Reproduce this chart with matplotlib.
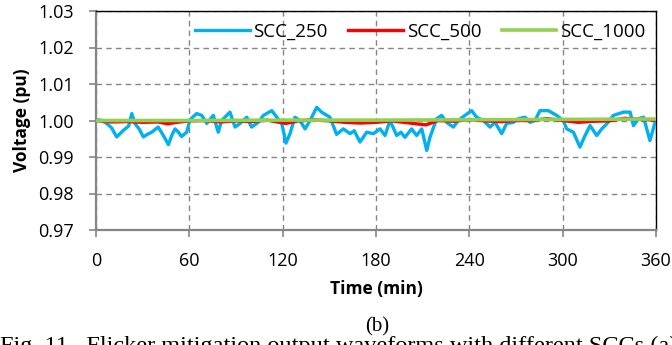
import numpy as np
import matplotlib
matplotlib.use("Agg")
import matplotlib.pyplot as plt

# SCC_250 (blue)
t_250 = [0, 3, 6.9, 10, 13.3, 17.6, 21, 23, 25, 28, 30.4, 33, 35.8, 40, 43.3, 46.5,
         48.7, 50.8, 53, 55, 58.3,
         60.4, 64.7, 68, 71.2, 75.4, 78.6, 80.8, 86.1, 89.4, 92.6, 96.9, 100, 104.3,
         107.6, 113, 116.2, 119.4, 122.1, 124.7, 127.9, 131.1, 134.4, 137.6, 141.9, 145,
         150.4, 154.7, 159, 163.3, 166, 169.7, 174, 178.3, 182.6, 185.8, 189, 193.3,
         196, 198.6, 202.9, 206.1, 209.4, 212.6, 214.7, 219, 222.2, 225.4, 229.7, 232.9,
         237.2, 241.5, 244.7, 249, 253.3, 256.5, 260.8, 264, 268.3, 271.5, 275.8, 279,
         282.2, 285.4, 290.8, 296.1, 300.4, 302.6, 306.9, 311.1, 314.4, 317.6, 321.9,
         325.1, 328.4, 332.6, 339.1, 343.4, 345.5, 348.8, 352, 356.1, 359.4, 360]
v_250 = [1.0002, 1.0001, 0.9992, 0.9980, 0.9955, 0.9973, 0.9985, 1.0019, 0.9992, 0.9975,
         0.9955, 0.9962, 0.9968, 0.9982, 0.9959, 0.9934,
         0.9959, 0.9977, 0.9968, 0.9956, 0.9968,
         1.0002, 1.0019, 1.0014, 0.9992, 1.0014, 0.9968, 1.0000, 1.0023, 0.9982, 0.9992,
         1.0009, 0.9982, 0.9995, 1.0014, 1.0027, 1.0009, 0.9992, 0.9938, 0.9964, 1.0009,
         1.0000, 0.9977, 1.0000, 1.0036, 1.0023,
         1.0009, 0.9962, 0.9977, 0.9964, 0.9972, 0.9941, 0.9968, 0.9964, 0.9977, 0.9959,
         1.0000, 0.9959, 0.9968, 0.9954, 0.9977, 0.9959, 0.9977, 0.9918, 0.9954, 1.0005,
         1.0014, 0.9995, 0.9982, 1.0000, 1.0014, 1.0027, 1.0009, 1.0000, 0.9982, 0.9995,
         0.9964, 0.9992, 0.9995, 1.0005, 1.0009, 0.9995, 1.0000, 1.0027, 1.0027, 1.0014,
         1.0000, 0.9977, 0.9968, 0.9927, 0.9959, 0.9986, 0.9959, 0.9977, 0.9991, 1.0014,
         1.0023, 1.0023, 0.9986, 1.0005, 1.0009, 0.9945, 0.9995, 0.9998]

# SCC_500 (red)
t_500 = [0, 10, 20, 30, 40, 46, 52, 60, 70, 80, 90, 100, 110, 122, 130, 140, 150, 160,
         170, 180, 190, 200, 212, 220, 230, 240, 250, 260, 270, 280, 290, 300, 310, 320,
         330, 340, 350, 360]
v_500 = [1.0000, 0.9996, 0.9997, 0.9995, 0.9996, 0.9991, 0.9995, 0.9999, 1.0000, 0.9996,
         0.9999, 0.9997, 1.0001, 0.9992, 0.9999, 1.0002, 0.9999, 0.9995, 0.9993, 0.9995,
         0.9999, 0.9994, 0.9988, 1.0000, 0.9998, 1.0003, 0.9999, 0.9997, 1.0000, 1.0000,
         1.0005, 1.0000, 0.9995, 0.9998, 0.9999, 1.0006, 1.0003, 1.0001]

# SCC_1000 (green)
t_1000 = [0, 60, 120, 180, 240, 300, 360]
v_1000 = [1.0000, 1.0000, 1.0001, 1.0001, 1.0002, 1.0003, 1.0004]

x_ticks = [0, 60, 120, 180, 240, 300, 360]
y_ticks = [0.97, 0.98, 0.99, 1.00, 1.01, 1.02, 1.03]

fig = plt.figure(figsize=(6.72, 3.45), dpi=100)
ax = fig.add_axes([96/672, 1-230/345, 560/672, 219/345])

grey = "#868686"
font = "Open Sans"
ax.plot(t_250, v_250, color="#00B0F0", lw=2.4, label="SCC_250", zorder=3)
ax.plot(t_500, v_500, color="#FF0000", lw=2.4, label="SCC_500", zorder=4)
ax.plot(t_1000, v_1000, color="#92D050", lw=2.6, label="SCC_1000", zorder=5)

ax.set_xlim(0, 360)
ax.set_ylim(0.97, 1.03)
ax.set_xticks(x_ticks)
ax.set_yticks(y_ticks)
ax.set_yticklabels(["%.2f" % y for y in y_ticks])
ax.grid(True, color=grey, ls=(0, (4, 3)), lw=1.0)
ax.set_axisbelow(True)

for s in ["left", "bottom"]:
    ax.spines[s].set_color(grey)
    ax.spines[s].set_linewidth(1.6)
for s in ["top", "right"]:
    ax.spines[s].set_color("black")
    ax.spines[s].set_linewidth(1.0)

ax.tick_params(direction="out", length=5, width=1.2, color=grey,
               labelsize=13, pad=11)
for lab in ax.get_xticklabels() + ax.get_yticklabels():
    lab.set_family(font)

ax.set_xlabel("Time (min)", fontsize=12.5, fontweight="bold", family=font, labelpad=7)
ax.set_ylabel("Voltage (pu)", fontsize=12.5, fontweight="bold", family=font, labelpad=5)

leg = ax.legend(loc="upper center", bbox_to_anchor=(0.579, 1.025), ncol=3, frameon=False,
                handlelength=2.9, columnspacing=1.1, handletextpad=0.2,
                prop={"family": font, "size": 13.5})

fig.text(377/672, 1-327/345, "(b)", ha="center", va="center",
         family="Liberation Serif", fontsize=15)
fig.text(0.0, 1-336/345, "Fig. 11.  Flicker mitigation output waveforms with different SCCs (a)",
         ha="left", va="top", family="Liberation Serif", fontsize=17.5)

fig.savefig("out.png", dpi=100)
